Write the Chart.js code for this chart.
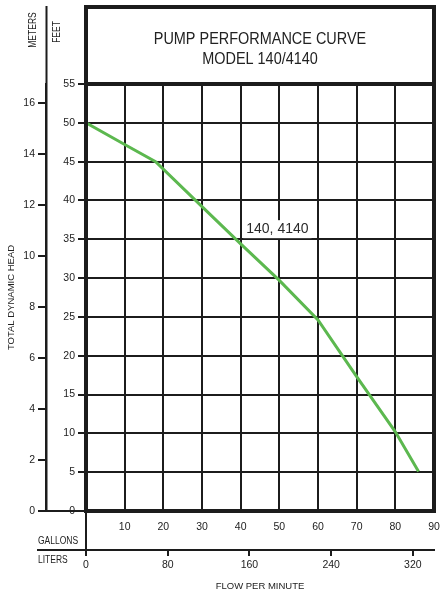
<!DOCTYPE html>
<html>
<head>
<meta charset="utf-8">
<script src="https://cdn.jsdelivr.net/npm/chart.js@4"></script>
<style>
  html, body { margin: 0; padding: 0; background: #fff; }
  canvas { display: block; }
</style>
</head>
<body>
<canvas id="curva" width="442" height="599"></canvas>
<script>
// datos
const caudal_gpm = [0, 10, 18, 30, 40, 50, 60, 70, 80, 86];
const altura_pies = [50, 47.2, 45, 39.2, 34.4, 29.7, 24.6, 17.3, 10.2, 5.1];
const titulo = ["PUMP PERFORMANCE CURVE", "MODEL 140/4140"];
const etiqueta_serie = "140, 4140";
const pos_etiqueta = [49.5, 36.3]; // galones, pies

const LITROS_POR_GALON = 3.785411784;
const PIES_POR_METRO = 3.28084;
const max_gal = 90;
const max_pies = 55;

const fuente = '"Liberation Sans", Arial, sans-serif';
const negro = "#1c1c1c";
const ESTRECHO = 0.85; // el original usa una letra angosta

// texto comprimido horizontalmente (o a lo largo si esta girado)
function texto(ctx, s, x, y, opts) {
  ctx.save();
  ctx.translate(x, y);
  if (opts.girar) ctx.rotate(-Math.PI / 2);
  ctx.scale(ESTRECHO, 1);
  ctx.font = opts.size + "px " + fuente;
  ctx.textAlign = opts.align || "center";
  ctx.textBaseline = "middle";
  ctx.fillStyle = opts.color || "#222";
  ctx.fillText(s, 0, 0);
  ctx.restore();
}

const plugin_marco = {
  id: "marco",
  afterDraw: (chart) => {
    const ctx = chart.ctx;
    const a = chart.chartArea;
    const m = chart.scales.metros;
    const l = chart.scales.litros;
    ctx.save();
    ctx.strokeStyle = negro;
    ctx.lineCap = "butt";

    // linea del eje de metros hasta arriba
    ctx.lineWidth = 2;
    ctx.beginPath();
    ctx.moveTo(m.right + 0.5, a.top - 78);
    ctx.lineTo(m.right + 0.5, a.bottom + 1);
    ctx.moveTo(m.right - 8, a.bottom);
    ctx.lineTo(a.left - 3, a.bottom);
    // prolongacion del borde izquierdo y linea galones/litros
    ctx.moveTo(a.left, a.bottom);
    ctx.lineTo(a.left, l.top + 2);
    ctx.moveTo(m.right - 9, l.top);
    ctx.lineTo(a.left, l.top);
    ctx.stroke();

    // marco grueso del grafico y del titulo
    ctx.lineWidth = 4;
    ctx.strokeRect(a.left, a.top, a.right - a.left, a.bottom - a.top);
    ctx.strokeRect(a.left, a.top - 77, a.right - a.left, 77);

    // titulo
    const cx = (a.left + a.right) / 2;
    titulo.forEach((t, i) => texto(ctx, t, cx, a.top - 45 + i * 20, { size: 17 }));

    // textos sueltos
    texto(ctx, "GALLONS", m.right - 8, l.top - 9, { size: 10, align: "left" });
    texto(ctx, "LITERS", m.right - 8, l.top + 10, { size: 10, align: "left" });
    texto(ctx, "METERS", m.right - 13, a.top - 54, { size: 10, girar: true });
    texto(ctx, "FEET", m.right + 11, a.top - 52, { size: 10, girar: true });

    // etiqueta de la curva con fondo blanco
    const x = chart.scales.x.getPixelForValue(pos_etiqueta[0]);
    const y = chart.scales.y.getPixelForValue(pos_etiqueta[1]);
    ctx.font = "14px " + fuente;
    const w = ctx.measureText(etiqueta_serie).width;
    ctx.fillStyle = "#fff";
    ctx.fillRect(x - w / 2 - 3, y - 9, w + 6, 18);
    ctx.fillStyle = "#2a2a2a";
    ctx.textAlign = "center";
    ctx.textBaseline = "middle";
    ctx.fillText(etiqueta_serie, x, y);
    ctx.restore();
  },
};

const fuente_ticks = { family: fuente, size: 10.5 };

const ctx = document.getElementById("curva").getContext("2d");
const chart_curva = new Chart(ctx, {
  type: "scatter",
  data: {
    datasets: [
      {
        label: etiqueta_serie,
        data: caudal_gpm.map((g, i) => ({ x: g, y: altura_pies[i] })),
        showLine: true,
        borderColor: "#5cb84f",
        borderWidth: 3,
        pointRadius: 0,
        tension: 0,
      },
    ],
  },
  options: {
    responsive: false,
    animation: false,
    devicePixelRatio: 1,
    layout: { padding: { left: 0, right: 8, top: 84, bottom: 0 } },
    plugins: {
      legend: { display: false },
      tooltip: { enabled: false },
      title: { display: false },
    },
    scales: {
      x: {
        type: "linear",
        position: "bottom",
        min: 0,
        max: max_gal,
        weight: 0,
        afterFit: (s) => { s.height = 39; s.paddingLeft = 0; s.paddingRight = 0; },
        ticks: {
          stepSize: 10,
          padding: 10,
          color: "#222",
          font: fuente_ticks,
          maxRotation: 0,
          callback: (v) => (v === 0 ? "" : v),
        },
        grid: { color: negro, lineWidth: 2, drawTicks: false },
        border: { display: false },
      },
      litros: {
        type: "linear",
        position: "bottom",
        min: 0,
        max: max_gal * LITROS_POR_GALON,
        weight: 1,
        afterFit: (s) => { s.height = 49; s.paddingLeft = 0; s.paddingRight = 0; },
        ticks: {
          stepSize: 80,
          includeBounds: false,
          padding: 3,
          color: "#222",
          font: fuente_ticks,
          maxRotation: 0,
        },
        grid: { drawOnChartArea: false, color: negro, lineWidth: 2, tickLength: 6 },
        border: { display: true, color: negro, width: 2 },
        title: {
          display: true,
          text: "FLOW PER MINUTE",
          color: "#222",
          font: { family: fuente, size: 9.5 },
          padding: 7,
        },
      },
      y: {
        type: "linear",
        position: "left",
        min: 0,
        max: max_pies,
        weight: 0,
        afterFit: (s) => { s.width = 40; },
        ticks: {
          stepSize: 5,
          padding: 3,
          color: "#222",
          font: fuente_ticks,
        },
        grid: { color: negro, lineWidth: 2, tickLength: 8 },
        border: { display: false },
      },
      metros: {
        type: "linear",
        position: "left",
        min: 0,
        max: max_pies / PIES_POR_METRO,
        weight: 1,
        afterFit: (s) => { s.width = 46; },
        ticks: {
          stepSize: 2,
          includeBounds: false,
          padding: 3,
          color: "#222",
          font: fuente_ticks,
        },
        grid: { drawOnChartArea: false, color: negro, lineWidth: 2, tickLength: 8 },
        border: { display: true, color: negro, width: 2 },
        title: {
          display: true,
          text: "TOTAL DYNAMIC HEAD",
          color: "#222",
          font: { family: fuente, size: 9.5 },
          padding: 6,
        },
      },
    },
  },
  plugins: [plugin_marco],
});
</script>
</body>
</html>
